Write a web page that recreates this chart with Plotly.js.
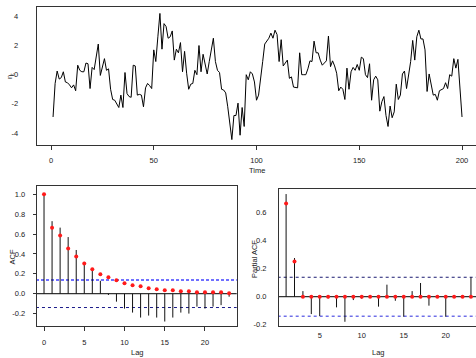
<!DOCTYPE html>
<html>
<head>
<meta charset="utf-8">
<script src="https://cdn.plot.ly/plotly-3.0.1.min.js"></script>
<style>html,body{margin:0;padding:0;background:#fff;}#chart{width:476px;height:358px;}</style>
</head>
<body>
<div id="chart"></div>
<script>
// ---- Data ----
const seriesValues = [
 -2.9, -0.6, 0.25, -0.3, -0.2, 0.2, -0.5, -0.55, -0.7, -0.9,
 -0.7, -1.1, 0.65, 0.3, 0.2, 0.2, 0.8, 0.75, -0.95, 0.5,
 0.35, 1.2, 2.1, -0.05, 0.5, 1.1, 0.3, 0.4, -1.0, -1.7,
 -1.75, -2.0, -2.25, -1.4, -2.25, 0.15, -1.3, -1.5, -1.55, 0.65,
 0.6, -1.4, -1.35, -1.4, -2.2, -0.9, -0.6, -0.75, -0.95, 1.7,
 0.9, 2.6, 4.2, 1.75, 3.5, 3.3, 2.5, 2.6, 3.0, 1.0,
 1.75, 1.5, 2.2, 0.2, 1.6, 0.1, -1.0, -0.65, -0.6, 0.3,
 0.0, 2.0, 0.2, 1.4, 0.65, 0.05, 0.9, 1.8, 2.5, 0.9,
 0.3, 0.15, -1.0, -1.05, -1.25, -2.2, -3.5, -4.45, -2.8, -2.8,
 -1.95, -4.15, -2.25, -3.55, 0.0, -0.35, 0.2, 0.05, -0.5, -1.75,
 -1.4, 0.0, 0.9, 2.1, 2.3, 2.5, 2.85, 2.5, 3.05, 2.75,
 0.9, 2.4, 0.6, 0.85, 1.0, -0.25, -0.15, -0.85, -0.9, -0.9,
 1.5, 0.0, 0.0, 0.0, 0.4, 0.95, 0.9, 2.3, 1.5, 1.5,
 1.0, 0.65, 0.8, 0.95, 2.65, 0.55, 0.95, 0.6, 0.1, -1.1,
 -0.85, -1.0, -1.7, 0.45, -1.0, 0.2, 0.5, 0.3, 0.7, 0.3,
 1.2, 1.1, 0.0, -0.2, 0.75, -1.75, -0.35, -0.1, -0.35, -2.5,
 -1.85, -1.5, -2.8, -3.55, -2.15, -2.95, -2.55, -0.65, -1.7, -1.4,
 0.05, 0.25, -0.95, -0.15, 0.9, 2.35, 1.0, 2.6, 3.05, 2.45,
 2.45, 1.7, -1.15, 0.05, -0.7, -1.4, -1.35, -1.75, -1.1, -1.05,
 -0.95, -0.55, -0.95, 0.0, -0.1, 1.1, 0.45, 1.05, -0.9, -2.9
];
const timeIndex = seriesValues.map((v, i) => i + 1);

const acfLags = [0,1,2,3,4,5,6,7,8,9,10,11,12,13,14,15,16,17,18,19,20,21,22,23];
const acfSample = [1.0, 0.73, 0.665, 0.57, 0.44, 0.32, 0.255, 0.13, -0.013, -0.08,
  -0.15, -0.19, -0.24, -0.22, -0.24, -0.28, -0.24, -0.19, -0.2, -0.13,
  -0.15, -0.13, -0.115, -0.03];
const acfTheory = [1.0, 0.665, 0.585, 0.455, 0.375, 0.305, 0.245, 0.195, 0.165, 0.135,
  0.105, 0.085, 0.075, 0.055, 0.045, 0.035, 0.035, 0.025, 0.025, 0.015,
  0.015, 0.015, 0.015, 0.005];

const pacfLags = [1,2,3,4,5,6,7,8,9,10,11,12,13,14,15,16,17,18,19,20,21,22,23];
const pacfSample = [0.733, 0.276, 0.04, -0.124, -0.138, -0.012, -0.076, -0.179, -0.024, -0.014,
  0.004, -0.071, 0.086, -0.029, -0.143, 0.04, 0.098, -0.064, -0.005, -0.143,
  -0.005, 0.002, 0.138];
const pacfTheory = [0.665, 0.252, 0, 0, 0, 0, 0, 0, 0, 0, 0, 0, 0, 0, 0, 0, 0, 0, 0, 0, 0, 0, 0];

const ciBound = 0.139;

const timeTicks = [0, 50, 100, 150, 200];
const seriesTicks = [-4, -2, 0, 2, 4];
const acfXTicks = [0, 5, 10, 15, 20];
const acfYTicks = [-0.2, 0.0, 0.2, 0.4, 0.6, 0.8, 1.0];
const pacfXTicks = [5, 10, 15, 20];
const pacfYTicks = [-0.2, 0.0, 0.2, 0.4, 0.6];

// ---- helpers ----
function stems(lags, vals) {
  const x = [], y = [];
  lags.forEach((l, i) => { x.push(l, l, null); y.push(0, vals[i], null); });
  return {x, y};
}
const W = 476, H = 358;
const fx = p => p / W;
const fy = p => (H - p) / H;

const FONT = 'Liberation Sans, Arial, Helvetica, sans-serif';
const tickFont = {family: FONT, size: 7.5, color: '#222'};

const acfSt = stems(acfLags, acfSample);
const pacfSt = stems(pacfLags, pacfSample);

const traces = [
  {x: timeIndex, y: seriesValues, type: 'scatter', mode: 'lines',
   line: {color: '#000', width: 1}, xaxis: 'x', yaxis: 'y', hoverinfo: 'skip'},

  // ACF
  {x: [-1, 25], y: [0, 0], mode: 'lines', line: {color: '#000', width: 1}, xaxis: 'x2', yaxis: 'y2'},
  {x: [-1, 25], y: [ciBound, ciBound], mode: 'lines', line: {color: '#7070ff', width: 2, dash: '3px,2px'}, xaxis: 'x2', yaxis: 'y2'},
  {x: [-1, 25], y: [-ciBound, -ciBound], mode: 'lines', line: {color: '#1a1a8a', width: 1, dash: '3px,3px'}, xaxis: 'x2', yaxis: 'y2'},
  {x: acfSt.x, y: acfSt.y, mode: 'lines', line: {color: '#111', width: 1}, xaxis: 'x2', yaxis: 'y2', connectgaps: false},
  {x: acfLags, y: acfTheory, mode: 'markers', marker: {color: '#ff1a1a', size: 4}, xaxis: 'x2', yaxis: 'y2'},

  // PACF
  {x: [0, 25], y: [0, 0], mode: 'lines', line: {color: '#000', width: 1}, xaxis: 'x3', yaxis: 'y3'},
  {x: [0, 25], y: [ciBound, ciBound], mode: 'lines', line: {color: '#1a1a70', width: 1, dash: '3px,3px'}, xaxis: 'x3', yaxis: 'y3'},
  {x: [0, 25], y: [-ciBound, -ciBound], mode: 'lines', line: {color: '#2a2add', width: 1, dash: '3px,3px'}, xaxis: 'x3', yaxis: 'y3'},
  {x: pacfSt.x, y: pacfSt.y, mode: 'lines', line: {color: '#111', width: 1}, xaxis: 'x3', yaxis: 'y3', connectgaps: false},
  {x: pacfLags, y: pacfTheory, mode: 'markers', marker: {color: '#ff1a1a', size: 4}, xaxis: 'x3', yaxis: 'y3'}
];

const axBase = {showgrid: false, zeroline: false, linecolor: '#333', linewidth: 1,
  showline: true, tickfont: tickFont, ticks: 'outside', tickcolor: '#333', ticklen: 4, tickwidth: 1};

const layout = {
  width: W, height: H,
  margin: {l: 0, r: 0, t: 0, b: 0},
  paper_bgcolor: '#fff', plot_bgcolor: '#fff',
  showlegend: false,
  hovermode: false,
  xaxis: Object.assign({}, axBase, {domain: [fx(36.7), 1], range: [-6.96, 206.8],
    tickvals: timeTicks, ticktext: timeTicks.map(String), mirror: true, anchor: 'y', ticklabelstandoff: 4}),
  yaxis: Object.assign({}, axBase, {domain: [fy(145), fy(7.3)], range: [-4.82, 4.62],
    tickvals: seriesTicks, ticktext: seriesTicks.map(String), anchor: 'x', ticklen: 0, ticklabelstandoff: 16}),

  xaxis2: Object.assign({}, axBase, {domain: [fx(36.7), fx(236.7)], range: [-0.91, 23.94],
    tickvals: acfXTicks, ticktext: acfXTicks.map(String), mirror: true, anchor: 'y2', ticklabelstandoff: 5}),
  yaxis2: Object.assign({}, axBase, {domain: [fy(325.7), fy(185.7)], range: [-0.322, 1.087],
    tickvals: acfYTicks, ticktext: acfYTicks.map(v => v.toFixed(1)), mirror: true, anchor: 'x2', ticklen: 3, ticklabelstandoff: 6}),

  xaxis3: Object.assign({}, axBase, {domain: [fx(279), 1], range: [0.155, 23.6],
    tickvals: pacfXTicks, ticktext: pacfXTicks.map(String), mirror: true, anchor: 'y3', ticklen: 0, ticklabelstandoff: 2}),
  yaxis3: Object.assign({}, axBase, {domain: [fy(325.7), fy(189.3)], range: [-0.207, 0.767],
    tickvals: pacfYTicks, ticktext: pacfYTicks.map(v => v.toFixed(1)), anchor: 'x3', ticklen: 0, ticklabelstandoff: 10}),

  annotations: [
    {text: 'Time', x: fx(257), y: fy(170), xref: 'paper', yref: 'paper', showarrow: false,
     font: {family: FONT, size: 7.5, color: '#222'}, xanchor: 'center', yanchor: 'middle'},
    {text: 'η<sub>t</sub>', x: fx(10), y: fy(76), xref: 'paper', yref: 'paper', showarrow: false, textangle: -90,
     font: {family: FONT, size: 7.5, color: '#222'}, xanchor: 'center', yanchor: 'middle'},
    {text: 'Lag', x: fx(137), y: fy(352), xref: 'paper', yref: 'paper', showarrow: false,
     font: {family: FONT, size: 7.5, color: '#222'}, xanchor: 'center', yanchor: 'middle'},
    {text: 'ACF', x: fx(11.5), y: fy(257), xref: 'paper', yref: 'paper', showarrow: false, textangle: -90,
     font: {family: FONT, size: 7.5, color: '#222'}, xanchor: 'center', yanchor: 'middle'},
    {text: 'Lag', x: fx(378), y: fy(352), xref: 'paper', yref: 'paper', showarrow: false,
     font: {family: FONT, size: 7.5, color: '#222'}, xanchor: 'center', yanchor: 'middle'},
    {text: 'Partial ACF', x: fx(254), y: fy(259), xref: 'paper', yref: 'paper', showarrow: false, textangle: -90,
     font: {family: FONT, size: 7.5, color: '#222'}, xanchor: 'center', yanchor: 'middle'}
  ]
};

Plotly.newPlot('chart', traces, layout, {staticPlot: true, displayModeBar: false});
</script>
</body>
</html>
